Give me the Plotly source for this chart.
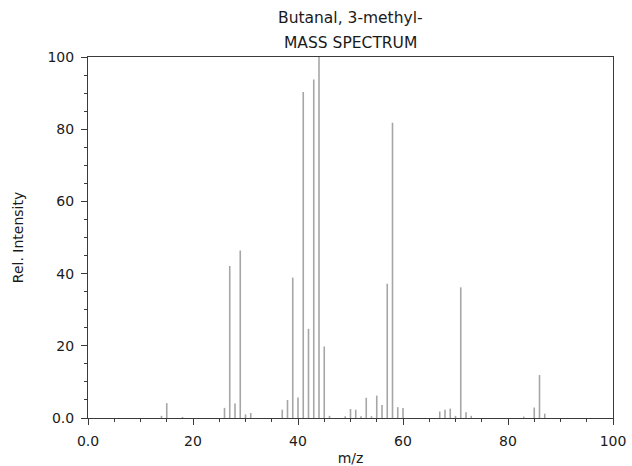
import plotly.graph_objects as go

# Electron-ionization mass spectrum of 3-methylbutanal (stick spectrum)
mz = [14, 15, 18, 26, 27, 28, 29, 30, 31, 37, 38, 39, 40, 41, 42, 43, 44, 45, 46,
      49, 50, 51, 52, 53, 54, 55, 56, 57, 58, 59, 60,
      67, 68, 69, 70, 71, 72, 73, 83, 85, 86, 87]
intensity = [0.6, 4.1, 0.3, 2.8, 42.1, 4.0, 46.4, 1.0, 1.4, 2.3, 5.0, 38.9, 5.7,
             90.3, 24.7, 93.8, 100.0, 19.8, 0.6,
             0.5, 2.5, 2.3, 0.5, 5.6, 0.5, 6.2, 3.6, 37.2, 81.8, 3.0, 2.8,
             1.8, 2.3, 2.6, 0.6, 36.2, 1.6, 0.6, 0.4, 2.9, 11.9, 1.2]

x_ticks = [0, 20, 40, 60, 80, 100]
x_tick_text = ["0.0", "20", "40", "60", "80", "100"]
y_ticks = [0, 20, 40, 60, 80, 100]
y_tick_text = ["0.0", "20", "40", "60", "80", "100"]

title_lines = ["Butanal, 3-methyl-", "MASS SPECTRUM"]

# Build one polyline with gaps so every peak is a vertical stick from the baseline
xs, ys = [], []
for m, inten in zip(mz, intensity):
    xs += [m, m, None]
    ys += [0, inten, None]

fig = go.Figure(go.Scatter(
    x=xs, y=ys, mode="lines",
    line=dict(color="#a6a6a6", width=1.6),
    hoverinfo="skip", showlegend=False,
))

TEXT = "#1a1a1a"
AXIS = "#3a3a3a"
axis_common = dict(
    showline=True, linecolor=AXIS, linewidth=1, mirror=True,
    ticks="outside", ticklen=6, tickwidth=1, tickcolor=AXIS,
    ticklabelstandoff=4, ticklabeloverflow="allow", automargin=False,
    showgrid=False, zeroline=False,
    tickfont=dict(family="DejaVu Sans", size=14, color=TEXT),
)
minor_ticks = dict(dtick=5, tick0=0, ticks="outside", ticklen=3, tickcolor=AXIS)

fig.update_layout(
    width=632, height=466,
    margin=dict(l=88, r=19, t=57, b=48),
    paper_bgcolor="white", plot_bgcolor="white",
    font=dict(family="DejaVu Sans", color=TEXT),
    xaxis=dict(
        range=[0, 100], tickvals=x_ticks, ticktext=x_tick_text,
        minor=minor_ticks,
        title=dict(text="m/z", font=dict(family="DejaVu Sans", size=14), standoff=6),
        **axis_common,
    ),
    yaxis=dict(
        range=[0, 100], tickvals=y_ticks, ticktext=y_tick_text,
        minor=minor_ticks,
        title=dict(text="Rel. Intensity", font=dict(family="DejaVu Sans", size=14), standoff=20),
        **axis_common,
    ),
)

# Two-line heading centred over the plot frame
for line, shift in zip(title_lines, [39, 14]):
    fig.add_annotation(
        text=line, xref="paper", yref="paper", x=0.5, y=1,
        xanchor="center", yanchor="middle", yshift=shift, showarrow=False,
        font=dict(family="DejaVu Sans", size=15.5, color=TEXT),
    )

fig.write_html("out.html")
